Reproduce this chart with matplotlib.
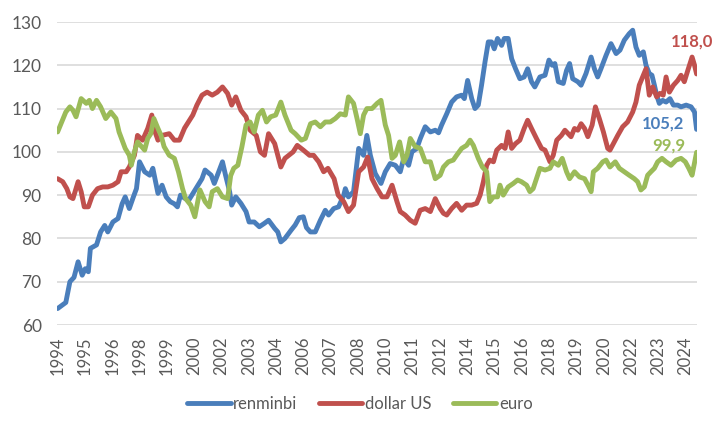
import matplotlib
matplotlib.use("Agg")
import matplotlib.pyplot as plt
from matplotlib.lines import Line2D

# ---- data (decimal year, index value) ----
renminbi_t = [1994.0, 1994.2, 1994.4, 1994.6, 1994.8, 1995.0, 1995.2, 1995.35, 1995.5, 1995.6, 1995.9,
              1996.1, 1996.3, 1996.45, 1996.7, 1996.95, 1997.15, 1997.3, 1997.5, 1997.7, 1997.85,
              1998.0, 1998.25, 1998.5, 1998.65, 1998.9, 1999.1, 1999.3, 1999.5, 1999.7, 1999.85,
              2000.0, 2000.2, 2000.4, 2000.75, 2001.05, 2001.2, 2001.5, 2001.65, 2001.8, 2002.05,
              2002.2, 2002.4, 2002.5, 2002.7, 2002.95, 2003.2, 2003.35, 2003.6, 2003.85, 2004.1,
              2004.3, 2004.6, 2004.75, 2004.9, 2005.1, 2005.4, 2005.6, 2005.8, 2006.0, 2006.15,
              2006.34, 2006.58, 2006.83, 2007.07, 2007.23, 2007.48, 2007.72, 2007.97, 2008.05, 2008.2,
              2008.45, 2008.7, 2008.94, 2009.1, 2009.27, 2009.51, 2009.79, 2010.0, 2010.24, 2010.49,
              2010.73, 2010.9, 2011.14, 2011.3, 2011.54, 2011.71, 2011.95, 2012.2, 2012.44, 2012.6,
              2012.75, 2013.0, 2013.24, 2013.48, 2013.73, 2013.86, 2014.02, 2014.22, 2014.38, 2014.54,
              2014.7, 2014.87, 2015.03, 2015.19, 2015.32, 2015.48, 2015.68, 2015.81, 2016.0, 2016.17,
              2016.36, 2016.57, 2016.78, 2016.95, 2017.14, 2017.3, 2017.55, 2017.8, 2017.99, 2018.15,
              2018.28, 2018.45, 2018.69, 2018.85, 2019.0, 2019.15, 2019.4, 2019.56, 2019.8, 2020.05,
              2020.21, 2020.37, 2020.53, 2020.78, 2021.02, 2021.27, 2021.46, 2021.67, 2021.91, 2022.08,
              2022.24, 2022.4, 2022.6, 2022.73, 2022.89, 2023.02, 2023.14, 2023.25, 2023.38, 2023.54,
              2023.71, 2023.9, 2024.07, 2024.28, 2024.44, 2024.69, 2024.93, 2025.1, 2025.2]
renminbi_v = [63.8, 64.5, 65.2, 70.0, 71.0, 74.6, 71.5, 73.0, 72.3, 77.7, 78.5,
              81.5, 83.0, 81.5, 83.8, 84.6, 88.0, 89.6, 86.9, 89.6, 91.5,
              97.7, 95.4, 94.6, 96.2, 90.4, 92.3, 89.6, 88.5, 88.0, 87.3,
              90.0, 89.3, 88.8, 91.5, 93.8, 95.8, 94.6, 92.7, 94.6, 97.7,
              94.6, 90.8, 87.7, 89.6, 88.1, 86.2, 83.8, 83.8, 82.7, 83.5,
              84.2, 82.3, 81.5, 79.2, 80.0, 81.9, 83.1, 84.8, 85.0, 82.5,
              81.5, 81.5, 84.2, 86.5, 85.4, 86.9, 87.3, 90.0, 91.5, 89.6,
              90.8, 100.8, 99.2, 103.8, 99.2, 95.0, 92.7, 95.4, 97.3, 96.9,
              95.4, 98.5, 96.9, 100.0, 100.8, 103.1, 105.8, 104.6, 105.0, 104.4,
              106.2, 108.8, 111.5, 112.7, 113.1, 112.3, 116.5, 112.3, 110.0, 110.8,
              115.4, 120.8, 125.4, 125.4, 123.8, 126.2, 124.6, 126.2, 126.2, 121.5,
              119.2, 116.9, 117.3, 119.2, 116.2, 115.0, 117.3, 117.7, 121.2, 120.0,
              120.4, 116.2, 115.8, 118.8, 120.4, 116.9, 116.2, 115.4, 118.1, 121.9,
              119.2, 117.3, 119.2, 122.3, 125.0, 122.7, 123.5, 125.8, 127.3, 128.1,
              124.2, 122.3, 123.1, 120.0, 118.1, 117.7, 115.4, 113.1, 111.2, 111.9,
              111.5, 112.3, 110.8, 110.8, 110.4, 110.8, 110.4, 109.2, 105.2]

dollar_t = [1994.0, 1994.25, 1994.45, 1994.6, 1994.75, 1995.0, 1995.15, 1995.3, 1995.5, 1995.7, 1995.95,
            1996.2, 1996.45, 1996.7, 1996.95, 1997.1, 1997.35, 1997.5, 1997.75, 1997.9, 1998.15,
            1998.4, 1998.6, 1998.7, 1998.9, 1999.1, 1999.45, 1999.7, 1999.95, 2000.2, 2000.4,
            2000.6, 2000.8, 2001.05, 2001.3, 2001.55, 2001.8, 2002.05, 2002.3, 2002.5, 2002.7,
            2002.95, 2003.2, 2003.4, 2003.7, 2003.9, 2004.1, 2004.3, 2004.6, 2004.9, 2005.1,
            2005.5, 2005.7, 2006.0, 2006.3, 2006.5, 2006.75, 2006.99, 2007.2, 2007.5, 2007.7,
            2007.97, 2008.2, 2008.45, 2008.7, 2008.94, 2009.14, 2009.35, 2009.6, 2009.84, 2010.08,
            2010.33, 2010.57, 2010.73, 2010.97, 2011.22, 2011.46, 2011.7, 2011.95, 2012.2, 2012.44,
            2012.68, 2012.84, 2013.0, 2013.24, 2013.48, 2013.73, 2013.97, 2014.22, 2014.46, 2014.63,
            2014.79, 2014.95, 2015.1, 2015.28, 2015.44, 2015.68, 2015.85, 2016.0, 2016.17, 2016.36,
            2016.57, 2016.78, 2016.95, 2017.14, 2017.38, 2017.63, 2017.8, 2018.04, 2018.2, 2018.37,
            2018.6, 2018.77, 2019.07, 2019.24, 2019.4, 2019.56, 2019.73, 2019.89, 2020.1, 2020.26,
            2020.45, 2020.65, 2020.86, 2020.97, 2021.18, 2021.35, 2021.59, 2021.83, 2022.08, 2022.24,
            2022.4, 2022.6, 2022.73, 2022.89, 2023.06, 2023.25, 2023.41, 2023.57, 2023.71, 2023.87,
            2024.07, 2024.28, 2024.44, 2024.6, 2024.77, 2024.98, 2025.1, 2025.2]
dollar_v = [93.8, 93.1, 91.5, 89.6, 89.2, 93.1, 90.8, 87.3, 87.3, 90.0, 91.5,
            91.9, 91.9, 92.3, 93.1, 95.4, 95.4, 96.5, 99.2, 103.8, 102.7,
            105.4, 108.5, 105.4, 102.7, 103.8, 104.2, 102.7, 102.7, 105.5, 107.0,
            108.5, 110.8, 113.1, 113.8, 113.1, 113.8, 115.0, 113.5, 110.8, 112.7,
            109.6, 108.1, 105.0, 103.8, 100.0, 99.2, 104.2, 101.9, 96.5, 98.5,
            100.0, 101.5, 100.4, 99.2, 99.2, 97.7, 95.4, 96.2, 93.8, 90.0,
            88.5, 86.2, 87.7, 95.4, 96.5, 98.8, 93.8, 91.5, 89.6, 89.6,
            92.3, 88.5, 86.2, 85.4, 84.2, 83.5, 86.5, 86.9, 86.2, 89.2,
            86.9, 85.8, 85.4, 86.9, 88.1, 86.5, 87.7, 87.7, 88.1, 90.0,
            93.1, 96.9, 98.1, 97.7, 100.4, 101.5, 100.8, 104.6, 100.8, 101.9,
            102.7, 105.4, 107.3, 105.4, 103.1, 100.8, 100.4, 97.7, 99.2, 102.7,
            103.8, 105.0, 103.5, 105.4, 105.0, 106.5, 105.4, 103.5, 106.2, 110.4,
            107.7, 104.6, 100.8, 100.4, 102.3, 103.8, 105.8, 106.9, 109.2, 111.5,
            115.4, 117.7, 119.2, 113.1, 115.0, 112.7, 113.5, 113.1, 117.3, 113.8,
            115.4, 116.5, 117.7, 116.2, 118.8, 121.9, 120.0, 118.0]

euro_t = [1994.0, 1994.2, 1994.4, 1994.6, 1994.75, 1994.9, 1995.15, 1995.4, 1995.55, 1995.7, 1995.9,
          1996.1, 1996.35, 1996.6, 1996.85, 1997.0, 1997.3, 1997.5, 1997.6, 1997.75, 1997.9,
          1998.1, 1998.25, 1998.4, 1998.55, 1998.7, 1998.9, 1999.05, 1999.2, 1999.45, 1999.7,
          1999.9, 2000.1, 2000.25, 2000.5, 2000.7, 2000.95, 2001.2, 2001.4, 2001.55, 2001.8,
          2002.05, 2002.3, 2002.45, 2002.6, 2002.8, 2003.0, 2003.2, 2003.4, 2003.6, 2003.8,
          2004.0, 2004.2, 2004.4, 2004.65, 2004.9, 2005.1, 2005.4, 2005.6, 2005.9, 2006.1,
          2006.35, 2006.58, 2006.83, 2007.07, 2007.31, 2007.56, 2007.8, 2008.05, 2008.2, 2008.45,
          2008.62, 2008.78, 2008.94, 2009.1, 2009.35, 2009.6, 2009.79, 2010.0, 2010.16, 2010.33,
          2010.49, 2010.7, 2010.9, 2011.06, 2011.22, 2011.46, 2011.71, 2011.95, 2012.2, 2012.44,
          2012.68, 2012.84, 2013.08, 2013.32, 2013.48, 2013.73, 2013.97, 2014.14, 2014.3, 2014.54,
          2014.74, 2014.95, 2015.1, 2015.28, 2015.48, 2015.6, 2015.76, 2016.0, 2016.25, 2016.46,
          2016.65, 2016.9, 2017.06, 2017.22, 2017.38, 2017.55, 2017.8, 2018.04, 2018.2, 2018.45,
          2018.64, 2018.85, 2019.0, 2019.24, 2019.48, 2019.73, 2019.94, 2020.05, 2020.16, 2020.37,
          2020.62, 2020.78, 2020.97, 2021.23, 2021.43, 2021.67, 2021.91, 2022.16, 2022.32, 2022.48,
          2022.65, 2022.81, 2022.97, 2023.14, 2023.3, 2023.51, 2023.71, 2023.95, 2024.2, 2024.44,
          2024.65, 2024.82, 2024.98, 2025.2]
euro_v = [104.6, 106.9, 109.2, 110.4, 109.6, 108.1, 112.3, 111.2, 111.9, 110.0, 111.9,
          110.4, 107.7, 109.2, 107.7, 104.6, 100.8, 99.2, 96.9, 100.0, 102.3,
          101.2, 100.4, 103.1, 104.2, 107.7, 105.4, 103.8, 101.2, 99.2, 98.5,
          95.4, 91.5, 89.2, 87.7, 85.0, 91.2, 88.5, 87.3, 90.8, 91.5,
          89.6, 89.2, 94.5, 96.2, 96.9, 101.2, 106.2, 106.9, 104.6, 108.5,
          109.6, 106.9, 108.1, 108.5, 111.5, 108.5, 105.0, 104.2, 102.7, 103.1,
          106.5, 106.9, 105.8, 106.9, 106.9, 107.7, 108.8, 108.5, 112.7, 111.2,
          107.7, 104.2, 108.5, 110.0, 110.0, 111.2, 111.9, 106.2, 103.8, 98.5,
          99.2, 102.3, 97.7, 99.2, 103.1, 101.2, 100.8, 97.7, 97.7, 93.8,
          94.6, 96.5, 97.7, 98.1, 99.2, 100.8, 101.5, 102.7, 101.5, 98.5,
          96.5, 95.4, 88.5, 89.6, 89.6, 92.3, 90.0, 91.9, 92.7, 93.5,
          93.1, 92.3, 90.8, 91.5, 93.8, 96.2, 95.8, 96.2, 97.7, 96.9,
          98.5, 95.4, 93.8, 95.4, 94.2, 93.8, 91.9, 90.8, 95.4, 96.2,
          97.7, 98.1, 96.5, 97.7, 96.2, 95.4, 94.6, 93.8, 93.1, 91.2,
          91.9, 94.6, 95.4, 96.2, 97.7, 98.5, 97.7, 96.9, 98.1, 98.5,
          97.7, 96.2, 94.6, 99.9]

series_names = ["renminbi", "dollar US", "euro"]
last_labels = ["105,2", "118,0", "99,9"]
tick_labels = ["1994", "1995", "1996", "1998", "1999", "2000", "2002", "2003", "2004", "2006",
               "2007", "2008", "2010", "2011", "2012", "2014", "2015", "2016", "2018", "2019",
               "2020", "2022", "2023", "2024"]
tick_step_months = 16

colors = ["#4A7EBB", "#C0504D", "#9BBB59"]
label_offsets = [(-34, 6), (-5, 32), (-28, 7)]
grey = "#595959"

plt.rcParams['font.family'] = ['Lato', 'DejaVu Sans']

fig = plt.figure(figsize=(7.2, 4.32), dpi=100)
ax = fig.add_axes([57/720, 1 - 325/432, 640/720, 303/432])

series = [(renminbi_t, renminbi_v), (dollar_t, dollar_v), (euro_t, euro_v)]
for (t, v), c, name in zip(series, colors, series_names):
    ax.plot(t, v, color=c, lw=3.5, solid_joinstyle='round', solid_capstyle='round', label=name, zorder=3)

for (t, v), c, lab, off in zip(series, colors, last_labels, label_offsets):
    ax.annotate(lab, xy=(t[-1], v[-1]), xytext=off, textcoords='offset pixels',
                ha='center', va='center', color=c, fontsize=12, fontweight='bold', zorder=4)

ax.set_ylim(60, 130)
ax.set_yticks(range(60, 131, 10))
ax.set_xlim(1993.97, 2025.22)
ticks = [1994 + i * tick_step_months / 12 for i in range(len(tick_labels))]
ax.set_xticks(ticks)
ax.set_xticklabels(tick_labels, rotation=90)
ax.tick_params(axis='x', length=0, pad=8, labelsize=12, labelcolor=grey)
ax.tick_params(axis='y', length=0, pad=11, labelsize=12.5, labelcolor=grey)
ax.grid(axis='y', color='#D9D9D9', lw=1.2, zorder=0)
ax.set_axisbelow(True)
for s in ax.spines.values():
    s.set_visible(False)

handles = [Line2D([0], [0], color=c, lw=3.5, solid_capstyle='round') for c in colors]
fig.legend(handles, series_names, loc='center', bbox_to_anchor=(0.5, 1 - 404/432), ncol=3,
           frameon=False, fontsize=12, handlelength=2.6, handletextpad=0.15, columnspacing=1.3,
           labelcolor=grey)

fig.savefig("out.png", dpi=100)
